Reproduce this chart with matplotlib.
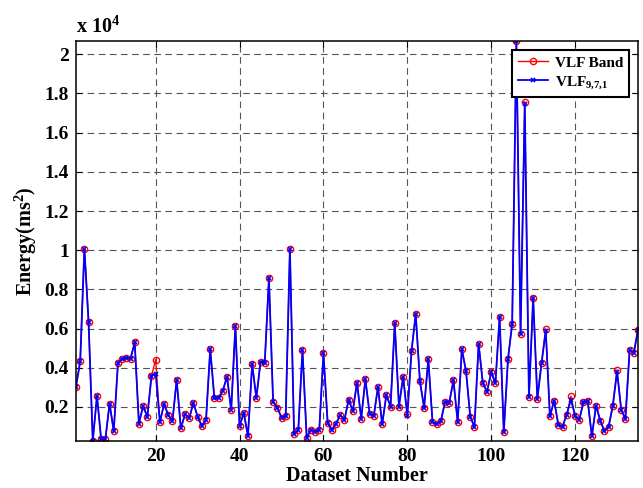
import matplotlib
matplotlib.use("Agg")
import matplotlib.pyplot as plt
from matplotlib.ticker import FuncFormatter

plt.rcParams['font.family'] = ['Liberation Serif', 'DejaVu Serif']
plt.rcParams['font.weight'] = 'bold'
plt.rcParams['mathtext.fontset'] = 'custom'
plt.rcParams['mathtext.rm'] = 'Liberation Serif:bold'
plt.rcParams['mathtext.bf'] = 'Liberation Serif:bold'
plt.rcParams['mathtext.it'] = 'Liberation Serif:bold:italic'

# energy values, in units of 10^4 ms^2
vlf_band = [
    0.304, 0.432, 1.008, 0.633, 0.026, 0.256, 0.034, 0.034, 0.217, 0.077,
    0.423, 0.444, 0.452, 0.447, 0.529, 0.115, 0.205, 0.150, 0.358, 0.442,
    0.123, 0.214, 0.159, 0.128, 0.338, 0.091, 0.163, 0.142, 0.222, 0.149,
    0.103, 0.132, 0.495, 0.243, 0.248, 0.282, 0.355, 0.183, 0.612, 0.103,
    0.169, 0.052, 0.418, 0.246, 0.430, 0.423, 0.856, 0.226, 0.197, 0.145,
    0.154, 1.006, 0.060, 0.081, 0.490, 0.043, 0.082, 0.074, 0.081, 0.474,
    0.120, 0.081, 0.115, 0.159, 0.134, 0.236, 0.180, 0.324, 0.140, 0.341,
    0.166, 0.154, 0.302, 0.111, 0.261, 0.202, 0.626, 0.202, 0.353, 0.166,
    0.486, 0.674, 0.331, 0.197, 0.444, 0.125, 0.111, 0.128, 0.227, 0.222,
    0.336, 0.123, 0.495, 0.381, 0.151, 0.098, 0.522, 0.321, 0.278, 0.377,
    0.321, 0.660, 0.070, 0.445, 0.624, 2.068, 0.573, 1.759, 0.250, 0.756,
    0.241, 0.423, 0.599, 0.152, 0.232, 0.110, 0.100, 0.160, 0.255, 0.156,
    0.135, 0.224, 0.232, 0.050, 0.207, 0.130, 0.076, 0.100, 0.207, 0.389,
    0.185, 0.139, 0.491, 0.476, 0.594,
]
vlf_971 = [
    0.304, 0.432, 1.008, 0.633, 0.026, 0.256, 0.034, 0.034, 0.217, 0.077,
    0.423, 0.444, 0.452, 0.447, 0.529, 0.115, 0.205, 0.150, 0.358, 0.370,
    0.123, 0.214, 0.159, 0.128, 0.338, 0.091, 0.163, 0.142, 0.222, 0.149,
    0.103, 0.132, 0.495, 0.243, 0.248, 0.282, 0.355, 0.183, 0.612, 0.103,
    0.169, 0.052, 0.418, 0.246, 0.430, 0.423, 0.856, 0.226, 0.197, 0.145,
    0.154, 1.006, 0.060, 0.081, 0.490, 0.043, 0.082, 0.074, 0.081, 0.474,
    0.120, 0.081, 0.115, 0.159, 0.134, 0.236, 0.180, 0.324, 0.140, 0.341,
    0.166, 0.154, 0.302, 0.111, 0.261, 0.202, 0.626, 0.202, 0.353, 0.152,
    0.486, 0.674, 0.331, 0.197, 0.444, 0.125, 0.111, 0.128, 0.227, 0.222,
    0.336, 0.123, 0.495, 0.381, 0.151, 0.098, 0.522, 0.321, 0.278, 0.377,
    0.321, 0.660, 0.070, 0.445, 0.624, 2.068, 0.573, 1.745, 0.250, 0.756,
    0.241, 0.423, 0.589, 0.152, 0.232, 0.110, 0.100, 0.160, 0.237, 0.156,
    0.135, 0.224, 0.232, 0.050, 0.207, 0.130, 0.076, 0.100, 0.207, 0.380,
    0.185, 0.139, 0.491, 0.476, 0.594,
]
dataset = list(range(1, len(vlf_band) + 1))
x_ticks = [20, 40, 60, 80, 100, 120]
y_ticks = [0.2, 0.4, 0.6, 0.8, 1.0, 1.2, 1.4, 1.6, 1.8, 2.0]

fig = plt.figure(figsize=(6.43, 4.88), dpi=100)
ax = fig.add_axes([76 / 643, 47 / 488, 562 / 643, 400 / 488])

ax.plot(dataset, vlf_band, color='red', lw=1.0, marker='o', ms=4.5,
        mfc='none', mec='red', mew=1.0, label='VLF Band')
ax.plot(dataset, vlf_971, color='blue', lw=1.3, marker='x', ms=2.5,
        mew=1.2, label=r'VLF$_{9{,}7{,}1}$')

ax.set_xlim(1, len(vlf_band))
ax.set_ylim(min(vlf_band), max(vlf_band))
ax.set_xticks(x_ticks)
ax.set_yticks(y_ticks)
ax.yaxis.set_major_formatter(FuncFormatter(lambda v, p: '%g' % round(v, 1)))

ax.grid(True, color='#555555', linestyle=(0, (6, 4)), lw=0.8)
ax.tick_params(direction='in', length=4, width=0.8, top=True, right=True,
               labelsize=14, pad=5)
for s in ax.spines.values():
    s.set_linewidth(1.1)

ax.set_xlabel('Dataset Number', fontsize=14.5, fontweight='bold', labelpad=1)
ax.set_ylabel(r'Energy(ms$^2$)', fontsize=14.5, fontweight='bold', labelpad=4)
ax.text(0.0, 1.008, r'x 10$^4$', transform=ax.transAxes, fontsize=14.5,
        fontweight='bold', ha='left', va='bottom')

leg = ax.legend(loc='upper right', bbox_to_anchor=(0.984, 0.978),
                borderaxespad=0, fancybox=False, framealpha=1,
                edgecolor='black', fontsize=11, handlelength=2.0,
                borderpad=0.4, labelspacing=0.3, handletextpad=0.4)
leg.get_frame().set_linewidth(1.5)

fig.savefig('out.png', dpi=100, facecolor='white')
